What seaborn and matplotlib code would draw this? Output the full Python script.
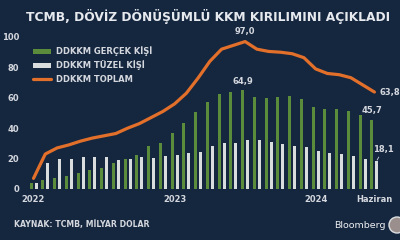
import numpy as np
import pandas as pd
import matplotlib
matplotlib.use("Agg")
import matplotlib.pyplot as plt
import seaborn as sns
from matplotlib.lines import Line2D
from matplotlib.patches import Patch, Ellipse

# ---- data ----
months = [str(p) for p in pd.period_range("2022-01", "2024-06", freq="M")]
gercek = [4, 6, 7, 8.5, 10.5, 12.5, 14, 17, 20, 22.5, 28, 30.5, 37, 43.5, 50.5,
          57, 62.5, 64, 64.9, 60.5, 60, 60.7, 61, 59, 54, 52.6, 52.4, 51.5, 49, 45.7]
tuzel = [4, 17, 20, 20, 21, 21, 21, 19, 20, 21, 20.5, 21.5, 22.3, 23.5, 24.3,
         28, 30, 30, 32.1, 32, 31, 29.6, 28.3, 27.4, 25, 23.4, 22.8, 21.7, 19.5, 18.1]
toplam = [7, 23, 27, 29, 31.5, 33.5, 35, 36.5, 40, 43, 47, 51, 56, 63, 73,
          84, 92, 94.5, 97.0, 92, 90.5, 90, 89, 86.4, 79, 76, 75.2, 73.2, 68.5, 63.8]
series_names = ["DDKKM GERÇEK KİŞİ", "DDKKM TÜZEL KİŞİ", "DDKKM TOPLAM"]
tick_months = ["2022-01", "2023-01", "2024-01", "2024-06"]
tick_labels = ["2022", "2023", "2024", "Haziran"]
title = "TCMB, DÖVİZ DÖNÜŞÜMLÜ KKM KIRILIMINI AÇIKLADI"
source = "KAYNAK: TCMB, MİLYAR DOLAR"

BG = "#15263f"
GREEN = "#5b8c3c"
WHITE = "#d9dddd"
ORANGE = "#e2702a"
TXT = "#d4d8de"

sns.set_theme(style="white")
plt.rcParams["font.family"] = ["DejaVu Sans"]

bars = pd.DataFrame({
    "month": months * 2,
    "value": gercek + tuzel,
    "series": [series_names[0]] * len(months) + [series_names[1]] * len(months),
})
line = pd.DataFrame({"month": months, "value": toplam})
line["pos"] = [months.index(m) for m in line["month"]]

fig = plt.figure(figsize=(4, 2.4), dpi=100, facecolor=BG)
ax = fig.add_axes([22 / 400, 51 / 240, 363 / 400, 152 / 240])
ax.set_facecolor(BG)

sns.barplot(data=bars, x="month", y="value", hue="series", order=months,
            hue_order=series_names[:2], palette=[GREEN, WHITE],
            width=0.85, gap=0.4, legend=False, ax=ax, saturation=1,
            linewidth=0)
sns.lineplot(data=line, x="pos", y="value", color=ORANGE, linewidth=2.3,
             ax=ax, zorder=5)

ax.set_xlim(-0.98, 29.9)
ax.set_ylim(0, 100)
for s in ax.spines.values():
    s.set_visible(False)
ax.set_xlabel("")
ax.set_ylabel("")
ax.set_yticks([0, 20, 40, 60, 80, 100])
ax.set_yticklabels(["0", "20", "40", "60", "80", "100"])
ax.set_xticks([months.index(m) for m in tick_months])
ax.set_xticklabels(tick_labels)
ax.tick_params(axis="both", length=0, colors=TXT, labelsize=6)
ax.tick_params(axis="y", pad=2)
ax.tick_params(axis="x", pad=4)
for lab in ax.get_xticklabels() + ax.get_yticklabels():
    lab.set_fontweight("bold")

# annotations
i_peak = toplam.index(max(toplam))
ax.annotate("97,0", (i_peak, toplam[i_peak]), xytext=(0, 4),
            textcoords="offset points", ha="center", va="bottom",
            color=TXT, fontsize=6, fontweight="bold")
ax.annotate("64,9", (i_peak - 0.2, gercek[i_peak]), xytext=(0, 3),
            textcoords="offset points", ha="center", va="bottom",
            color=TXT, fontsize=6, fontweight="bold")
ax.annotate("63,8", (len(months) - 1, toplam[-1]), xytext=(4, 0),
            textcoords="offset points", ha="left", va="center",
            color=TXT, fontsize=6, fontweight="bold")
ax.annotate("45,7", (len(months) - 1.2, gercek[-1]), xytext=(0, 3),
            textcoords="offset points", ha="center", va="bottom",
            color=TXT, fontsize=6, fontweight="bold")
ax.annotate("18,1", (len(months) - 0.8, tuzel[-1] + 0.5), xytext=(4.5, 5),
            textcoords="offset points", ha="center", va="bottom",
            color=TXT, fontsize=6, fontweight="bold",
            arrowprops=dict(arrowstyle="-", color=TXT, lw=0.6,
                            shrinkA=0, shrinkB=0.5))

# legend
handles = [Patch(facecolor=GREEN, edgecolor="none"),
           Patch(facecolor=WHITE, edgecolor="none"),
           Line2D([0], [0], color=ORANGE, lw=2.3)]
leg = ax.legend(handles, series_names, loc="upper left",
                bbox_to_anchor=(0.02, 0.96), frameon=False,
                fontsize=6, handlelength=2.2, handleheight=0.5,
                handletextpad=0.6, labelspacing=0.5, borderaxespad=0)
for t in leg.get_texts():
    t.set_color(TXT)
    t.set_fontweight("bold")

fig.text(0.52, 0.93, title, ha="center", va="center", color="#e6eaef",
         fontsize=8.8, fontweight="bold")
fig.text(14 / 400, 1 - 224 / 240, source, ha="left", va="center",
         color=TXT, fontsize=5.6, fontweight="bold")
fig.text(386 / 400, 1 - 225 / 240, "Bloomberg", ha="right", va="center",
         color="#eef0f2", fontsize=6.8)
fig.patches.append(Ellipse((397 / 400, 1 - 225 / 240), 16 / 400, 16 / 240,
                           transform=fig.transFigure, facecolor="#9a8f8c",
                           edgecolor="#dcdfe2", lw=1))

fig.savefig("out.png", dpi=100, facecolor=BG)
